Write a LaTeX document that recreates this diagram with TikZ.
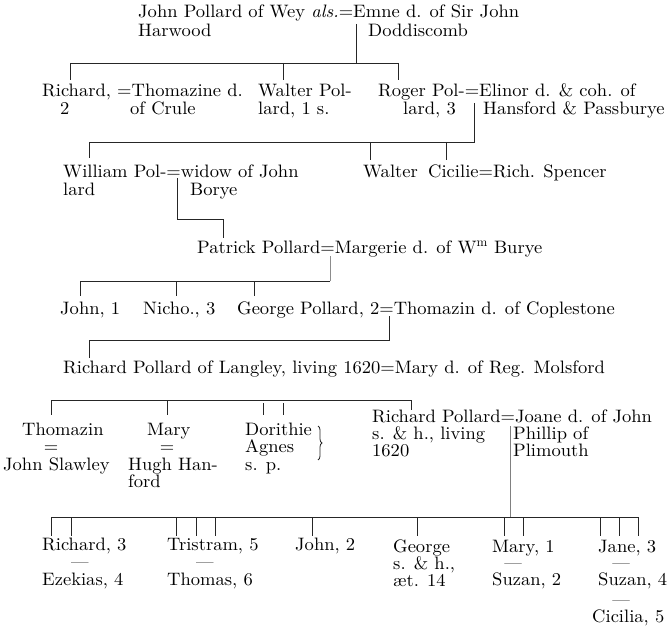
\documentclass[tikz,border=0pt]{standalone}
\usepackage{fontspec}
\setmainfont{lmroman10-regular.otf}[ItalicFont=lmroman10-italic.otf, FakeStretch=1.03]
\usetikzlibrary{decorations.pathreplacing}
\tikzset{
  txt/.style={anchor=base west, inner sep=0pt, font=\fontsize{18}{17}\selectfont},
  ctxt/.style={anchor=base, inner sep=0pt, font=\fontsize{18}{17}\selectfont},
  dsh/.style={anchor=center, inner sep=0pt, text height=1pt, text depth=0pt, font=\fontsize{17}{17}\selectfont},
  ln/.style={line width=0.8pt, black!85}
}
\begin{document}
\begin{tikzpicture}[x=1pt,y=-1pt]
\useasboundingbox (0,0) rectangle (671,631);
% ---------- texts ----------
\node[txt] (jp) at (138,18) {John Pollard of Wey \textit{als.}=Emne d. of Sir John};
\node[txt] (jp2) at (138,37) {Harwood};
\node[txt] (em2) at (368,37) {Doddiscomb};
\node[txt] (ri) at (42,97) {Richard, =Thomazine d.};
\node[txt] (ri2) at (60,115) {2};
\node[txt] (th2) at (130,115) {of Crule};
\node[txt] (wa) at (258,97) {Walter Pol-};
\node[txt] (wa2) at (258,115) {lard, 1 s.};
\node[txt] (ro) at (378,97) {Roger Pol-=Elinor d. \& coh. of};
\node[txt] (ro2) at (403,115) {lard, 3};
\node[txt] (el2) at (483,115) {Hansford \& Passburye};
\node[txt] (wi) at (63,177) {William Pol-=widow of John};
\node[txt] (wi2) at (63,195) {lard};
\node[txt] (wd2) at (190,195) {Borye};
\node[txt] (wt) at (363,178) {Walter};
\node[txt] (ci) at (428,178) {Cicilie=Rich. Spencer};
\node[txt] (pa) at (197,253) {Patrick Pollard=Margerie d. of W\textsuperscript{m} Burye};
\node[txt] (jo) at (60,314) {John, 1};
\node[txt] (ni) at (143,314) {Nicho., 3};
\node[txt] (ge) at (237,314) {George Pollard, 2=Thomazin d. of Coplestone};
\node[txt] (rl) at (63,373) {Richard Pollard of Langley, living 1620=Mary d. of Reg. Molsford};
\node[txt] (tz) at (22,435) {Thomazin};
\node[ctxt] (tze) at (51,452) {=};
\node[txt] (tz3) at (3,470) {John Slawley};
\node[txt] (ma) at (147,435) {Mary};
\node[ctxt] (mae) at (167,452) {=};
\node[txt] (ma3) at (128,470) {Hugh Han-};
\node[txt] (ma4) at (128,487) {ford};
\node[txt] (do) at (245,435) {Dorithie};
\node[txt] (ag) at (245,452) {Agnes};
\node[txt] (sp) at (245,470) {s. p.};
\node[txt] (rj) at (372,422) {Richard Pollard=Joane d. of John};
\node[txt] (rj2) at (372,439) {s. \& h., living};
\node[txt] (rj3) at (372,456) {1620};
\node[txt] (jn2) at (513,439) {Phillip of};
\node[txt] (jn3) at (513,456) {Plimouth};
\node[txt] (c1) at (42,550) {Richard, 3};
\node[dsh] (c1d) at (80,567) {—};
\node[txt] (c2) at (42,585) {Ezekias, 4};
\node[txt] (c3) at (167,550) {Tristram, 5};
\node[dsh] (c3d) at (205,567) {—};
\node[txt] (c4) at (167,585) {Thomas, 6};
\node[txt] (c5) at (295,550) {John, 2};
\node[txt] (c6) at (393,552) {George};
\node[txt] (c6b) at (393,569) {s. \& h.,};
\node[txt] (c6c) at (393,586) {æt. 14};
\node[txt] (c7) at (492,552) {Mary, 1};
\node[dsh] (c7d) at (513,568) {—};
\node[txt] (c8) at (492,585) {Suzan, 2};
\node[txt] (c9) at (598,552) {Jane, 3};
\node[dsh] (c9d) at (621,568) {—};
\node[txt] (c10) at (598,585) {Suzan, 4};
\node[dsh] (c10d) at (621,605) {—};
\node[txt] (c11) at (592,622) {Cicilia, 5};
% brace
\coordinate (bra) at (318,426);
\coordinate (brb) at (318,460);
\draw[ln, decorate, decoration={brace, amplitude=4pt}] (bra) -- (brb);
% ---------- connectors ----------
% generation 1
\coordinate (g1m) at (356,24);  \coordinate (g1j) at (356,63);
\coordinate (g1l) at (70,63);   \coordinate (g1r) at (398,63);
\coordinate (g1a) at (70,80);   \coordinate (g1b0) at (283,63); \coordinate (g1b) at (283,80);
\coordinate (g1c) at (398,80);
\draw[ln] (g1m) -- (g1j);
\draw[ln] (g1l) -- (g1r);
\draw[ln] (g1l) -- (g1a);
\draw[ln] (g1b0) -- (g1b);
\draw[ln] (g1r) -- (g1c);
% generation 2 (Roger)
\coordinate (g2m) at (474,103); \coordinate (g2r) at (474,142);
\coordinate (g2l) at (89,142);  \coordinate (g2a) at (89,158);
\coordinate (g2b0) at (370,142); \coordinate (g2b) at (370,160);
\coordinate (g2c0) at (446,142); \coordinate (g2c) at (446,160);
\draw[ln] (g2m) -- (g2r) -- (g2l) -- (g2a);
\draw[ln] (g2b0) -- (g2b);
\draw[ln] (g2c0) -- (g2c);
% generation 3 (William)
\coordinate (g3m) at (177,178); \coordinate (g3k) at (177,219);
\coordinate (g3r) at (223,219); \coordinate (g3a) at (223,238);
\draw[ln] (g3m) -- (g3k) -- (g3r) -- (g3a);
% generation 4 (Patrick)
\coordinate (g4m) at (330,256); \coordinate (g4r) at (330,281);
\coordinate (g4l) at (80,281);  \coordinate (g4a) at (80,296);
\coordinate (g4b0) at (176,281); \coordinate (g4b) at (176,296);
\coordinate (g4c0) at (254,281); \coordinate (g4c) at (254,296);
\draw[ln, black!45] (g4m) -- (g4r);
\draw[ln] (g4r) -- (g4l) -- (g4a);
\draw[ln] (g4b0) -- (g4b);
\draw[ln] (g4c0) -- (g4c);
% generation 5 (George)
\coordinate (g5m) at (389,316); \coordinate (g5r) at (389,340);
\coordinate (g5l) at (89,340);  \coordinate (g5a) at (89,358);
\draw[ln] (g5m) -- (g5r) -- (g5l) -- (g5a);
% generation 6 (Richard of Langley)
\coordinate (g6l) at (51,400);  \coordinate (g6r) at (411,400);
\coordinate (g6a) at (51,415);
\coordinate (g6b0) at (167,400); \coordinate (g6b) at (167,415);
\coordinate (g6c0) at (263,403); \coordinate (g6c) at (263,415);
\coordinate (g6d0) at (283,403); \coordinate (g6d) at (283,415);
\coordinate (g6e) at (411,410);
\draw[ln] (g6l) -- (g6r) -- (g6e);
\draw[ln] (g6l) -- (g6a);
\draw[ln] (g6b0) -- (g6b);
\draw[ln] (g6c0) -- (g6c);
\draw[ln] (g6d0) -- (g6d);
% generation 7 (Richard junior)
\coordinate (g7m) at (510,426); \coordinate (g7j) at (510,517);
\coordinate (g7l) at (51,517);  \coordinate (g7r) at (638,517);
\draw[ln, black!50] (g7m) -- (g7j);
\draw[ln] (g7l) -- (g7r);
\foreach \xx [count=\i] in {51,71,176,196,215,312,417,504,523,600,619,638}{
  \coordinate (d\i t) at (\xx,517);
  \coordinate (d\i b) at (\xx,536);
  \draw[ln] (d\i t) -- (d\i b);
}
\end{tikzpicture}
\end{document}
